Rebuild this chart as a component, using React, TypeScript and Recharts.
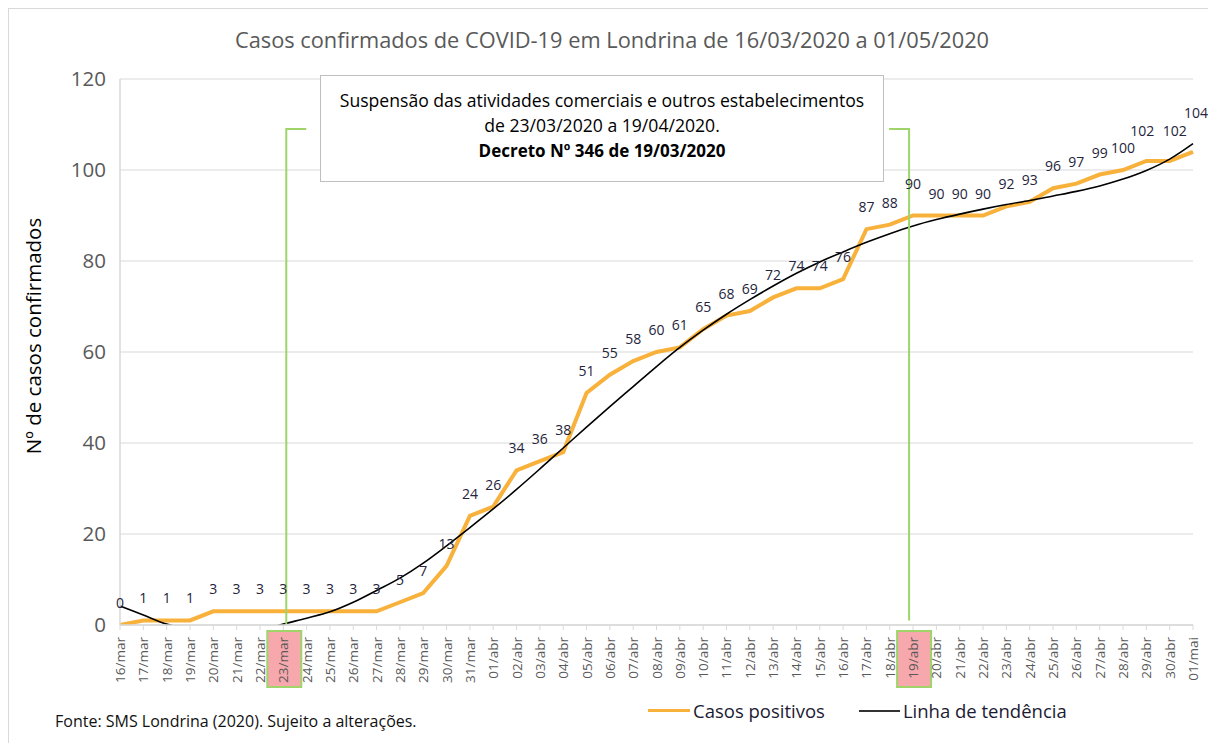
import { LineChart, Line, XAxis, YAxis, CartesianGrid, LabelList, ReferenceLine } from 'recharts'

const dates = [
  '16/mar', '17/mar', '18/mar', '19/mar', '20/mar', '21/mar', '22/mar', '23/mar', '24/mar', '25/mar',
  '26/mar', '27/mar', '28/mar', '29/mar', '30/mar', '31/mar', '01/abr', '02/abr', '03/abr', '04/abr',
  '05/abr', '06/abr', '07/abr', '08/abr', '09/abr', '10/abr', '11/abr', '12/abr', '13/abr', '14/abr',
  '15/abr', '16/abr', '17/abr', '18/abr', '19/abr', '20/abr', '21/abr', '22/abr', '23/abr', '24/abr',
  '25/abr', '26/abr', '27/abr', '28/abr', '29/abr', '30/abr', '01/mai'
]

const casosPositivos = [
  0, 1, 1, 1, 3, 3, 3, 3, 3, 3,
  3, 3, 5, 7, 13, 24, 26, 34, 36, 38,
  51, 55, 58, 60, 61, 65, 68, 69, 72, 74,
  74, 76, 87, 88, 90, 90, 90, 90, 92, 93,
  96, 97, 99, 100, 102, 102, 104
]

// linha de tendência (parte abaixo de zero fica cortada)
const linhaTendencia = [
  4.2, 2.2, 0.2, -1, -1.8, -2, -1.2, 0.2, 1.5, 2.9,
  5, 7.6, 10.3, 13.6, 17.4, 21.4, 25.5, 29.8, 34.3, 38.9,
  43.5, 48, 52.4, 56.8, 61, 64.8, 68.3, 71.5, 74.5, 77.3,
  79.8, 82, 84.1, 86, 87.7, 89.1, 90.3, 91.4, 92.4, 93.3,
  94.3, 95.3, 96.5, 98, 99.9, 102.4, 105.8
]

const yTicks = [0, 20, 40, 60, 80, 100, 120]

const inicioSuspensao = '23/mar'
const fimSuspensao = '19/abr'
const topoColchete = 109

const data = dates.map((d, i) => ({
  dia: d,
  casos: casosPositivos[i],
  tendencia: linhaTendencia[i]
}))

const FONT = '"Open Sans", sans-serif'
const ORANGE = '#F8B13B'
const GREEN = '#9fd46b'
const GRID = '#d9d9d9'

const DateTick = (props: any) => {
  const { x, y, payload } = props
  const hl = payload.value === inicioSuspensao || payload.value === fimSuspensao
  return (
    <g transform={`translate(${x},${y})`}>
      {hl && <rect x={-16} y={-1} width={34} height={56} fill="#f6a8ad" stroke={GREEN} strokeWidth={2} />}
      <text
        transform="rotate(-90)"
        x={-5}
        y={5}
        textAnchor="end"
        fontSize={13.5}
        fontFamily={FONT}
        fill="#595959"
      >
        {payload.value}
      </text>
    </g>
  )
}

const labelNudge: Record<string, [number, number]> = {
  '19/abr': [0, 10],
  '29/abr': [-4, 8],
  '30/abr': [5, 8],
  '01/mai': [3, 17]
}

const ValueLabel = (props: any) => {
  const { x, y, value, index } = props
  const [dx, dy] = labelNudge[dates[index]] || [0, 0]
  return (
    <text
      x={x + dx}
      y={y - 17 - dy}
      textAnchor="middle"
      fontSize={14}
      fontFamily={FONT}
      fill="#24243c"
    >
      {value}
    </text>
  )
}

const bracket = (dir: number, dx: number) => (props: any) => {
  const { x1, y1, y2 } = props
  const top = Math.min(y1, y2)
  const bottom = Math.max(y1, y2)
  const x = x1 + dx
  return (
    <path
      d={`M${x + dir * 20},${top} L${x},${top} L${x},${bottom}`}
      stroke={GREEN}
      strokeWidth={2}
      fill="none"
    />
  )
}

export default function App() {
  return (
    <div
      style={{
        position: 'relative',
        width: 1200,
        height: 734,
        borderTop: `1px solid ${GRID}`,
        borderLeft: `1px solid ${GRID}`,
        borderRight: `1px solid ${GRID}`,
        fontFamily: FONT,
        background: '#fff'
      }}
    >
      <div
        style={{
          position: 'absolute',
          left: 0,
          top: 16,
          width: 1206,
          textAlign: 'center',
          fontSize: 21.8,
          lineHeight: '30px',
          color: '#595959'
        }}
      >
        Casos confirmados de COVID-19 em Londrina de 16/03/2020 a 01/05/2020
      </div>

      <div
        style={{
          position: 'absolute',
          left: 24,
          top: 327,
          transform: 'translate(-50%, -50%) rotate(-90deg)',
          whiteSpace: 'nowrap',
          fontSize: 20.5,
          color: '#000'
        }}
      >
        Nº de casos confirmados
      </div>

      <div style={{ position: 'absolute', left: 0, top: 0 }}>
        <LineChart width={1200} height={700} data={data} margin={{ top: 70, right: 16, left: 51, bottom: 14 }}>
          <CartesianGrid vertical={false} stroke={GRID} strokeWidth={1.2} />
          <XAxis
            dataKey="dia"
            interval={0}
            height={70}
            tick={<DateTick />}
            tickSize={5}
            tickMargin={2}
            stroke={GRID}
            tickLine={{ stroke: GRID }}
            axisLine={{ stroke: GRID, strokeWidth: 1.5 }}
          />
          <YAxis
            width={60}
            domain={[0, 120]}
            ticks={yTicks}
            allowDataOverflow
            tickLine={false}
            tickSize={6}
            tickMargin={8}
            axisLine={{ stroke: GRID, strokeWidth: 1.5 }}
            tick={{ fontSize: 20.5, fill: '#595959', fontFamily: FONT }}
          />
          <Line
            dataKey="casos"
            stroke={ORANGE}
            strokeWidth={4}
            dot={false}
            type="linear"
            isAnimationActive={false}
          >
            <LabelList dataKey="casos" content={<ValueLabel />} />
          </Line>
          <Line
            dataKey="tendencia"
            stroke="#000"
            strokeWidth={1.6}
            dot={false}
            type="monotone"
            isAnimationActive={false}
          />
          <ReferenceLine
            segment={[{ x: inicioSuspensao, y: 0 }, { x: inicioSuspensao, y: topoColchete }]}
            shape={bracket(1, 3)}
          />
          <ReferenceLine
            segment={[{ x: fimSuspensao, y: 1 }, { x: fimSuspensao, y: topoColchete }]}
            shape={bracket(-1, -4)}
          />
        </LineChart>
      </div>

      <div
        style={{
          position: 'absolute',
          left: 311,
          top: 66,
          width: 562,
          height: 93,
          border: '1px solid #bfbfbf',
          background: '#fff',
          textAlign: 'center',
          fontSize: 17.6,
          lineHeight: '25px',
          color: '#000',
          paddingTop: 12,
          boxSizing: 'content-box'
        }}
      >
        <div>Suspensão das atividades comerciais e outros estabelecimentos</div>
        <div>de 23/03/2020 a 19/04/2020.</div>
        <div style={{ fontWeight: 700, fontSize: 17 }}>Decreto Nº 346 de 19/03/2020</div>
      </div>

      <div
        style={{
          position: 'absolute',
          left: 639,
          top: 689,
          display: 'flex',
          alignItems: 'center',
          fontSize: 18.5,
          color: '#1b1b33'
        }}
      >
        <span style={{ display: 'inline-block', width: 42, height: 3, background: ORANGE, marginRight: 3 }} />
        <span>Casos positivos</span>
        <span style={{ display: 'inline-block', width: 41, height: 2, background: '#333', marginLeft: 34, marginRight: 3 }} />
        <span>Linha de tendência</span>
      </div>

      <div
        style={{
          position: 'absolute',
          left: 46,
          top: 701,
          fontSize: 16,
          color: '#111'
        }}
      >
        Fonte: SMS Londrina (2020). Sujeito a alterações.
      </div>
    </div>
  )
}
